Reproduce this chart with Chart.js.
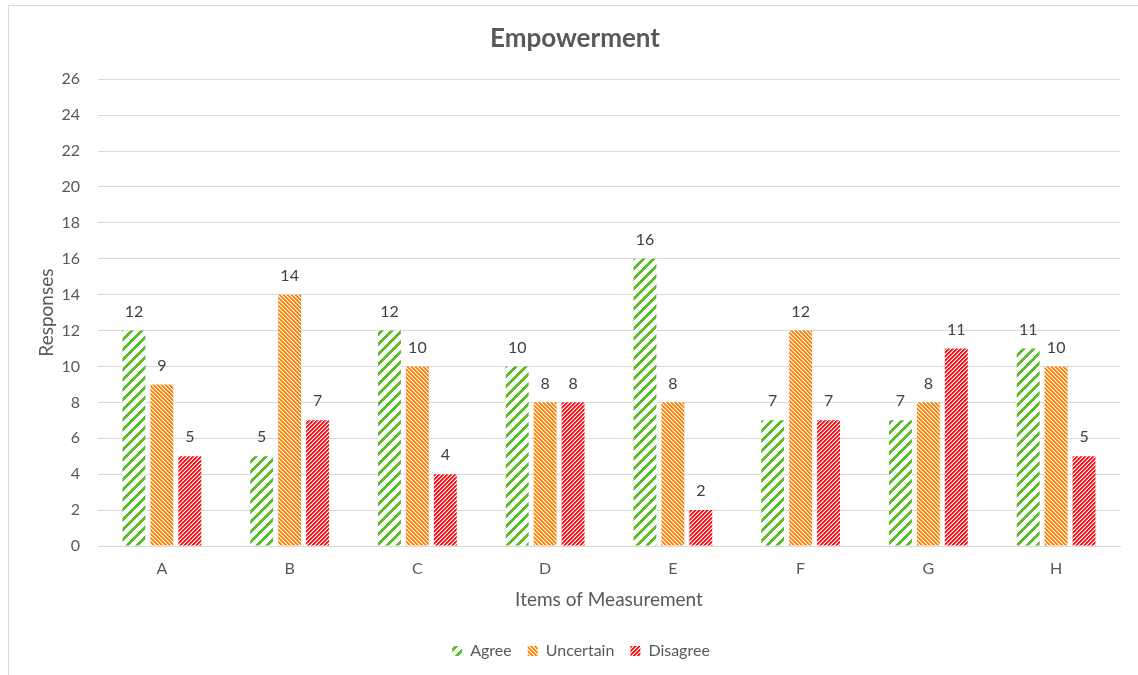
<!DOCTYPE html>
<html>
<head>
<meta charset="utf-8">
<script src="https://cdn.jsdelivr.net/npm/chart.js@4"></script>
<style>
  html, body { margin: 0; padding: 0; background: #fff; }
  #wrap { width: 1138px; height: 675px; }
</style>
</head>
<body>
<div id="wrap"><canvas id="empChart" width="1138" height="675"></canvas></div>
<script>
// Chart data
const categories = ["A", "B", "C", "D", "E", "F", "G", "H"];
const agree = [12, 5, 12, 10, 16, 7, 7, 11];
const uncertain = [9, 14, 10, 8, 8, 12, 8, 10];
const disagree = [5, 7, 4, 8, 2, 7, 11, 5];
const yTicks = [0, 2, 4, 6, 8, 10, 12, 14, 16, 18, 20, 22, 24, 26];

const textColor = "#595959";
const gridColor = "#D9D9D9";
const fontFamily = "Lato, 'Open Sans', sans-serif";

// Pixel hatch fill, like Excel's pattern fills (no anti-aliasing)
// on = pixels of colour per stripe, half = add one half-tone pixel
function hatch(rgb, size, on, dir, half) {
    const c = document.createElement("canvas");
    c.width = size;
    c.height = size;
    const g = c.getContext("2d");
    const img = g.createImageData(size, size);
    for (let y = 0; y < size; y++) {
        for (let x = 0; x < size; x++) {
            const k = dir === "/" ? (x + y) % size : ((x - y) % size + size) % size;
            const i = (y * size + x) * 4;
            let col = [255, 255, 255];
            if (k < on) col = rgb;
            else if (half && k === on) col = rgb.map(v => Math.round((v + 255) / 2));
            img.data[i] = col[0];
            img.data[i + 1] = col[1];
            img.data[i + 2] = col[2];
            img.data[i + 3] = 255;
        }
    }
    g.putImageData(img, 0, 0);
    return g.createPattern(c, "repeat");
}

const greenFill = hatch([92, 189, 42], 10, 4, "/", false);
const orangeFill = hatch([255, 128, 0], 4, 2, "\\", true);
const redFill = hatch([255, 12, 18], 4, 2, "/", true);

// frame round the chart
const framePlugin = {
    id: "frame",
    beforeDraw(chart) {
        const ctx = chart.ctx;
        ctx.save();
        ctx.fillStyle = "#fff";
        ctx.fillRect(0, 0, chart.width, chart.height);
        ctx.strokeStyle = gridColor;
        ctx.lineWidth = 1;
        ctx.strokeRect(8.5, 5.5, chart.width + 10, chart.height + 10);
        ctx.restore();
    },
    afterLayout(chart) {
        // nudge legend and title to the right, as in the original
        chart.legend.left += 11;
        chart.legend.right += 11;
        chart.titleBlock.left += 5;
        chart.titleBlock.right += 5;
    }
};

// value labels above each bar
const valuePlugin = {
    id: "values",
    afterDatasetsDraw(chart) {
        const ctx = chart.ctx;
        ctx.save();
        ctx.font = "16px " + fontFamily;
        ctx.fillStyle = "#404040";
        ctx.textAlign = "center";
        ctx.textBaseline = "bottom";
        chart.data.datasets.forEach((ds, i) => {
            chart.getDatasetMeta(i).data.forEach((bar, j) => {
                ctx.fillText(ds.data[j], bar.x, bar.y - 11);
            });
        });
        ctx.restore();
    }
};

const ctx = document.getElementById("empChart").getContext("2d");
new Chart(ctx, {
    type: "bar",
    data: {
        labels: categories,
        datasets: [
            { label: "Agree", data: agree, backgroundColor: greenFill },
            { label: "Uncertain", data: uncertain, backgroundColor: orangeFill },
            { label: "Disagree", data: disagree, backgroundColor: redFill }
        ]
    },
    options: {
        responsive: false,
        animation: false,
        categoryPercentage: 0.656,
        barPercentage: 0.82,
        layout: { padding: { left: 20, right: 18, top: 0, bottom: 6 } },
        plugins: {
            title: {
                display: true,
                text: "Empowerment",
                color: textColor,
                font: { family: fontFamily, size: 26, weight: "bold" },
                padding: { top: 23, bottom: 25 }
            },
            legend: {
                position: "bottom",
                labels: {
                    color: textColor,
                    font: { family: fontFamily, size: 16 },
                    boxWidth: 10,
                    boxHeight: 10,
                    padding: 16
                }
            },
            tooltip: { enabled: false }
        },
        scales: {
            x: {
                grid: { display: false, drawTicks: false },
                border: { color: gridColor },
                ticks: { color: textColor, font: { family: fontFamily, size: 16 }, padding: 13 },
                title: {
                    display: true,
                    text: "Items of Measurement",
                    color: textColor,
                    font: { family: fontFamily, size: 19 },
                    padding: { top: 0, bottom: 16 }
                },
                afterFit(scale) { scale.height = 81; }
            },
            y: {
                min: 0,
                max: 26,
                afterBuildTicks(scale) { scale.ticks = yTicks.map(v => ({ value: v })); },
                grid: { color: gridColor, drawTicks: false },
                border: { display: false },
                ticks: { color: textColor, font: { family: fontFamily, size: 16 }, padding: 18 },
                title: {
                    display: true,
                    text: "Responses",
                    color: textColor,
                    font: { family: fontFamily, size: 19 },
                    padding: { top: 15, bottom: 0 }
                },
                afterFit(scale) { scale.width = 78; }
            }
        }
    },
    plugins: [framePlugin, valuePlugin]
});
</script>
</body>
</html>
